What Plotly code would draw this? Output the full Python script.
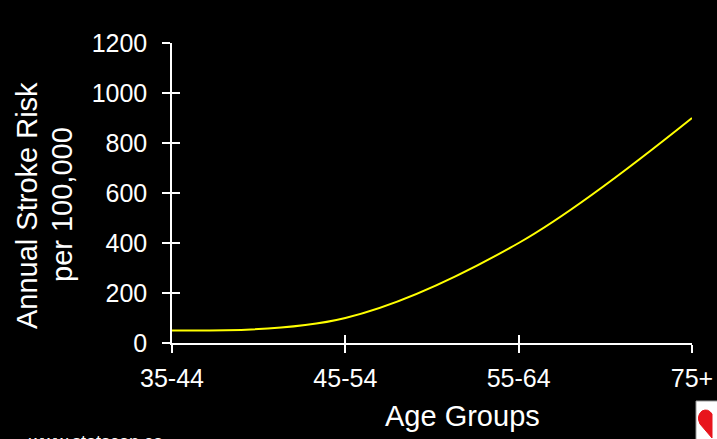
import plotly.graph_objects as go

age_groups = ["35-44", "45-54", "55-64", "75+"]
stroke_risk = [50, 100, 400, 900]
y_ticks = [0, 200, 400, 600, 800, 1000, 1200]

font = "Liberation Sans, Arial, sans-serif"

W, H = 717, 439
L, R, T, B = 172, 25, 43, 96
PW, PH = W - L - R, H - T - B


def px(x):
    return (x - L) / PW


def py(y):
    return (H - B - y) / PH


fig = go.Figure()
fig.add_trace(go.Scatter(
    x=age_groups, y=stroke_risk, mode="lines",
    line=dict(color="#FFFF00", width=2, shape="spline", smoothing=1),
    showlegend=False, hoverinfo="skip"))
# invisible trace on overlay axes that draw the inner half of the crossing ticks
fig.add_trace(go.Scatter(x=age_groups, y=stroke_risk, xaxis="x2", yaxis="y2",
                         mode="lines", line=dict(width=0), opacity=0,
                         showlegend=False, hoverinfo="skip"))

common_x = dict(type="category", range=[0, 3], showgrid=False, zeroline=False,
                showline=True, linecolor="white", linewidth=1.5, automargin=False,
                tickcolor="white", tickwidth=1.5, ticklen=8)
common_y = dict(range=[0, 1200], tickvals=y_ticks, showgrid=False, zeroline=False,
                showline=True, linecolor="white", linewidth=1.5, automargin=False,
                tickcolor="white", tickwidth=1.5, ticklen=8)

ann = [
    dict(text="Annual Stroke Risk", x=px(27), y=py(206), textangle=-90,
         font=dict(size=29, color="white")),
    dict(text="per 100,000", x=px(62), y=py(205), textangle=-90,
         font=dict(size=29, color="white")),
    dict(text="Age Groups", x=px(462), y=py(416),
         font=dict(size=29, color="white")),
    dict(text="www.statscan.ca", x=px(26), y=py(442), xanchor="left",
         font=dict(size=18, color="white")),
]
for a in ann:
    a.setdefault("xanchor", "center")
    a.setdefault("yanchor", "middle")
    a.update(xref="paper", yref="paper", showarrow=False)

shapes = [
    dict(type="rect", xref="paper", yref="paper",
         x0=px(696), x1=px(720), y0=py(401), y1=py(442),
         fillcolor="white", line=dict(color="#999999", width=1)),
    dict(type="path", xref="paper", yref="paper",
         path=(f"M {px(712)},{py(438)} L {px(700)},{py(424)} "
               f"Q {px(696)},{py(416)} {px(702)},{py(411)} "
               f"Q {px(708)},{py(408)} {px(712)},{py(414)} Z"),
         fillcolor="#E8141C", line=dict(color="#E8141C", width=1)),
]

fig.update_layout(
    width=W, height=H,
    paper_bgcolor="black", plot_bgcolor="black",
    margin=dict(l=L, r=R, t=T, b=B),
    font=dict(family=font, color="white", size=20),
    xaxis=dict(**common_x, ticks="outside",
               tickfont=dict(size=25, color="white"), ticklabelstandoff=4),
    yaxis=dict(**common_y, ticks="outside",
               tickfont=dict(size=25, color="white"), ticklabelstandoff=10),
    xaxis2=dict(**common_x, ticks="inside", overlaying="x", showticklabels=False,
                matches="x"),
    yaxis2=dict(**common_y, ticks="inside", overlaying="y", showticklabels=False,
                anchor="x2"),
    annotations=ann,
    shapes=shapes,
)

fig.write_html("out.html",
               config={"displayModeBar": False},
               post_script="document.body.style.margin='0';"
                           "document.body.style.padding='0';"
                           "document.body.style.overflow='hidden';"
                           "document.body.style.background='black';")
